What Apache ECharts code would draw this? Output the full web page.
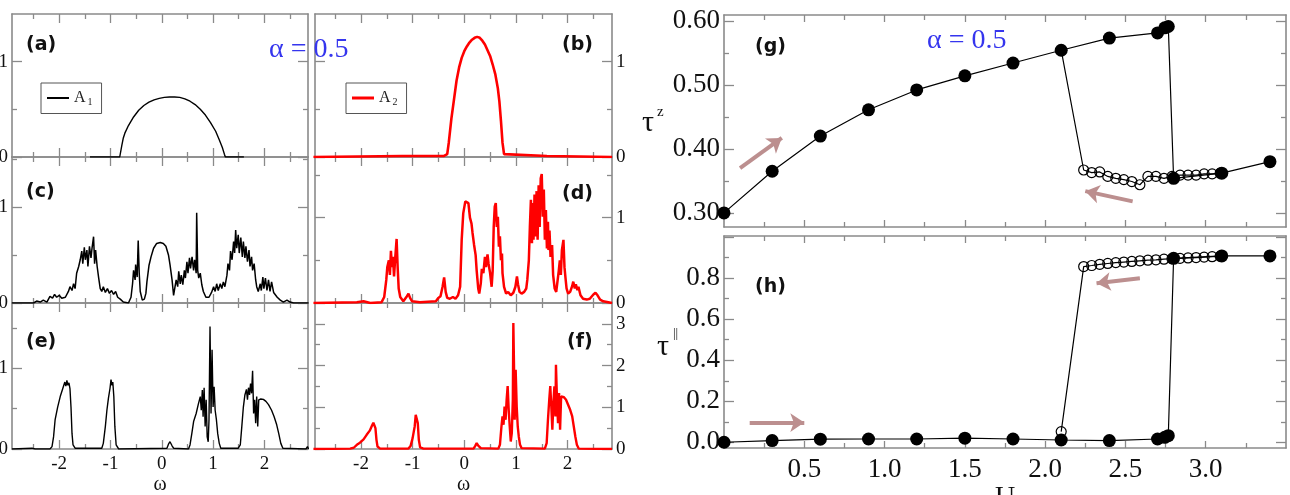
<!DOCTYPE html>
<html>
<head>
<meta charset="utf-8">
<script src="https://cdn.jsdelivr.net/npm/echarts@6/dist/echarts.min.js"></script>
<style>
html, body { margin: 0; padding: 0; background: #fff; }
#chart { width: 1290px; height: 495px; }
</style>
</head>
<body>
<div id="chart"></div>
<script>
// spectral functions, [omega, A(omega)]
var specA1a = [[-1.4,0],[-0.82,0],[-0.8,0.02],[-0.78,0.12],[-0.75,0.2],[-0.72,0.25],[-0.65,0.33],[-0.55,0.42],[-0.45,0.49],[-0.35,0.54],[-0.25,0.575],[-0.15,0.6],[-0.05,0.615],[0.05,0.625],[0.15,0.63],[0.25,0.63],[0.35,0.625],[0.45,0.61],[0.55,0.585],[0.65,0.55],[0.75,0.5],[0.85,0.44],[0.95,0.36],[1.05,0.27],[1.12,0.18],[1.18,0.1],[1.22,0.03],[1.24,0],[1.6,0]];
var specA2b = [[-2.92,0],[-1.2,0.01],[-0.4,0.01],[-0.33,0.03],[-0.3,0.15],[-0.25,0.4],[-0.2,0.6],[-0.15,0.8],[-0.1,0.94],[-0.05,1.04],[0,1.11],[0.05,1.16],[0.1,1.2],[0.15,1.23],[0.2,1.25],[0.25,1.26],[0.3,1.25],[0.35,1.22],[0.4,1.18],[0.45,1.12],[0.5,1.06],[0.55,0.97],[0.6,0.87],[0.65,0.72],[0.68,0.58],[0.71,0.38],[0.74,0.15],[0.77,0.03],[0.8,0.01],[1.6,0.01],[2.86,0]];
var specA1c = [[-2.92,0],[-2.5,0],[-2.44,0.02],[-2.37,0.01],[-2.31,0.03],[-2.24,0.01],[-2.18,0.07],[-2.13,0.05],[-2.09,0.09],[-2.05,0.06],[-2.0,0.08],[-1.95,0.05],[-1.88,0.06],[-1.82,0.12],[-1.79,0.17],[-1.75,0.13],[-1.72,0.2],[-1.69,0.15],[-1.66,0.31],[-1.62,0.38],[-1.59,0.45],[-1.56,0.54],[-1.54,0.41],[-1.51,0.58],[-1.49,0.45],[-1.46,0.55],[-1.44,0.38],[-1.41,0.59],[-1.38,0.47],[-1.36,0.57],[-1.33,0.69],[-1.31,0.41],[-1.29,0.55],[-1.26,0.38],[-1.23,0.26],[-1.2,0.15],[-1.17,0.12],[-1.14,0.17],[-1.1,0.11],[-1.06,0.15],[-1.02,0.1],[-0.98,0.13],[-0.94,0.09],[-0.9,0.12],[-0.86,0.06],[-0.81,0.04],[-0.75,0.01],[-0.65,0],[-0.6,0.06],[-0.57,0.2],[-0.55,0.34],[-0.52,0.24],[-0.51,0.4],[-0.48,0.27],[-0.46,0.65],[-0.44,0.31],[-0.42,0.12],[-0.38,0.03],[-0.34,0.04],[-0.31,0.1],[-0.29,0.22],[-0.25,0.39],[-0.21,0.48],[-0.16,0.57],[-0.1,0.62],[-0.03,0.63],[0.03,0.62],[0.08,0.59],[0.13,0.5],[0.16,0.4],[0.2,0.24],[0.23,0.08],[0.25,0.06],[0.28,0.24],[0.31,0.17],[0.33,0.33],[0.36,0.2],[0.38,0.29],[0.41,0.19],[0.44,0.34],[0.46,0.26],[0.49,0.43],[0.51,0.31],[0.54,0.47],[0.56,0.36],[0.59,0.48],[0.62,0.34],[0.64,0.45],[0.67,0.31],[0.68,0.94],[0.7,0.34],[0.72,0.26],[0.75,0.31],[0.78,0.19],[0.81,0.12],[0.86,0.06],[0.92,0.06],[0.97,0.11],[1.01,0.17],[1.04,0.12],[1.07,0.2],[1.1,0.13],[1.14,0.2],[1.17,0.15],[1.2,0.22],[1.23,0.17],[1.27,0.29],[1.29,0.41],[1.32,0.34],[1.34,0.54],[1.37,0.45],[1.4,0.64],[1.42,0.52],[1.44,0.76],[1.46,0.57],[1.49,0.71],[1.51,0.52],[1.54,0.68],[1.57,0.48],[1.59,0.64],[1.62,0.47],[1.64,0.59],[1.67,0.43],[1.7,0.55],[1.72,0.38],[1.75,0.48],[1.77,0.34],[1.8,0.41],[1.83,0.24],[1.85,0.17],[1.88,0.12],[1.92,0.2],[1.94,0.13],[1.97,0.27],[1.99,0.15],[2.02,0.26],[2.05,0.13],[2.08,0.24],[2.11,0.12],[2.14,0.22],[2.18,0.11],[2.21,0.13],[2.25,0.06],[2.31,0.03],[2.37,0.01],[2.44,0.03],[2.5,0.01],[2.57,0],[2.86,0]];
var specA2d = [[-2.92,0],[-2.08,0.01],[-1.95,0.02],[-1.82,0],[-1.6,0.01],[-1.55,0.07],[-1.51,0.27],[-1.49,0.42],[-1.46,0.5],[-1.44,0.33],[-1.42,0.61],[-1.4,0.42],[-1.38,0.54],[-1.36,0.31],[-1.34,0.5],[-1.31,0.75],[-1.29,0.42],[-1.27,0.17],[-1.24,0.07],[-1.18,0.02],[-1.11,0.08],[-1.08,0.11],[-1.05,0.06],[-1.01,0.02],[-0.86,0.01],[-0.55,0.02],[-0.5,0.06],[-0.46,0.08],[-0.42,0.19],[-0.39,0.3],[-0.36,0.13],[-0.33,0.06],[-0.28,0.05],[-0.22,0.07],[-0.17,0.05],[-0.12,0.09],[-0.08,0.19],[-0.05,0.74],[-0.02,1.05],[0.02,1.19],[0.05,1.21],[0.08,1.17],[0.11,1.0],[0.14,0.93],[0.16,0.82],[0.19,0.68],[0.22,0.56],[0.24,0.38],[0.27,0.17],[0.29,0.11],[0.32,0.23],[0.34,0.4],[0.37,0.35],[0.4,0.54],[0.42,0.42],[0.45,0.57],[0.47,0.46],[0.5,0.35],[0.53,0.19],[0.55,0.38],[0.57,0.89],[0.59,1.13],[0.61,1.17],[0.63,0.89],[0.65,1.01],[0.67,0.66],[0.69,0.78],[0.71,0.5],[0.73,0.58],[0.74,0.35],[0.77,0.19],[0.81,0.11],[0.85,0.13],[0.9,0.09],[0.95,0.12],[0.99,0.19],[1.02,0.31],[1.04,0.22],[1.07,0.13],[1.11,0.11],[1.16,0.13],[1.2,0.17],[1.22,0.27],[1.25,0.5],[1.27,0.89],[1.29,1.21],[1.31,0.7],[1.32,1.17],[1.34,0.74],[1.36,1.27],[1.38,0.78],[1.4,1.31],[1.42,0.74],[1.44,1.38],[1.46,0.89],[1.48,1.46],[1.5,1.51],[1.52,1.01],[1.54,1.33],[1.56,0.74],[1.58,1.09],[1.6,0.64],[1.62,0.95],[1.63,0.62],[1.65,0.85],[1.67,0.54],[1.7,0.68],[1.72,0.33],[1.75,0.17],[1.78,0.13],[1.8,0.23],[1.83,0.38],[1.85,0.5],[1.87,0.33],[1.89,0.62],[1.92,0.74],[1.94,0.42],[1.96,0.29],[1.98,0.17],[2.01,0.11],[2.05,0.13],[2.09,0.2],[2.11,0.25],[2.14,0.17],[2.16,0.22],[2.19,0.15],[2.21,0.19],[2.25,0.09],[2.3,0.05],[2.37,0.04],[2.43,0.05],[2.5,0.1],[2.54,0.12],[2.58,0.09],[2.63,0.04],[2.69,0.02],[2.86,0]];
var specA1e = [[-2.92,0],[-2.53,0.01],[-2.5,0.03],[-2.47,0],[-2.18,0],[-2.14,0.03],[-2.11,0.15],[-2.08,0.36],[-2.03,0.52],[-1.98,0.65],[-1.93,0.75],[-1.89,0.83],[-1.87,0.78],[-1.85,0.85],[-1.83,0.79],[-1.81,0.82],[-1.79,0.75],[-1.77,0.52],[-1.75,0.19],[-1.73,0.05],[-1.69,0.01],[-1.23,0.01],[-1.2,0.03],[-1.17,0.01],[-1.14,0.07],[-1.1,0.28],[-1.07,0.48],[-1.04,0.63],[-1.01,0.75],[-0.99,0.86],[-0.97,0.79],[-0.955,0.83],[-0.935,0.65],[-0.915,0.28],[-0.89,0.05],[-0.84,0],[0.1,0.01],[0.13,0.06],[0.16,0.09],[0.2,0.04],[0.23,0.01],[0.52,0],[0.55,0.05],[0.585,0.19],[0.62,0.34],[0.67,0.44],[0.71,0.55],[0.75,0.65],[0.77,0.48],[0.79,0.73],[0.805,0.4],[0.825,0.76],[0.845,0.28],[0.865,0.61],[0.885,0.15],[0.905,0.09],[0.92,0.36],[0.94,1.52],[0.96,0.44],[0.98,1.23],[1.0,0.52],[1.02,0.77],[1.04,0.48],[1.065,0.36],[1.09,0.19],[1.12,0.07],[1.15,0.01],[1.49,0.01],[1.53,0.05],[1.56,0.28],[1.59,0.52],[1.62,0.67],[1.65,0.74],[1.67,0.61],[1.69,0.76],[1.71,0.67],[1.73,0.81],[1.75,0.69],[1.77,0.97],[1.79,0.44],[1.81,0.61],[1.83,0.32],[1.85,0.65],[1.87,0.28],[1.89,0.61],[1.93,0.62],[1.98,0.615],[2.03,0.59],[2.08,0.55],[2.14,0.48],[2.19,0.4],[2.24,0.3],[2.28,0.19],[2.32,0.07],[2.36,0.01],[2.81,0],[2.84,0.03],[2.86,0]];
var specA2f = [[-2.92,0],[-2.21,0.01],[-2.14,0.03],[-2.08,0.1],[-2.02,0.15],[-1.95,0.23],[-1.89,0.34],[-1.83,0.44],[-1.79,0.55],[-1.76,0.63],[-1.74,0.6],[-1.72,0.5],[-1.7,0.22],[-1.68,0.06],[-1.63,0.01],[-1.08,0.01],[-1.04,0.07],[-1.0,0.26],[-0.96,0.54],[-0.94,0.82],[-0.92,0.86],[-0.9,0.62],[-0.88,0.22],[-0.855,0.04],[-0.79,0.01],[0.18,0.01],[0.21,0.07],[0.24,0.14],[0.27,0.08],[0.32,0.02],[0.66,0.01],[0.69,0.1],[0.72,0.54],[0.74,0.78],[0.76,0.58],[0.78,1.02],[0.8,0.7],[0.82,1.18],[0.84,1.51],[0.86,0.94],[0.88,0.54],[0.9,0.18],[0.92,0.38],[0.94,1.18],[0.95,3.02],[0.963,1.98],[0.976,0.7],[0.995,1.9],[1.015,1.02],[1.035,0.54],[1.055,0.3],[1.08,0.1],[1.11,0.02],[1.56,0.01],[1.595,0.14],[1.62,0.7],[1.645,1.18],[1.665,1.51],[1.685,1.02],[1.705,0.46],[1.725,1.1],[1.745,1.5],[1.765,0.78],[1.775,2.02],[1.795,1.18],[1.815,0.62],[1.835,1.34],[1.855,0.46],[1.875,1.26],[1.9,1.3],[1.93,1.24],[1.97,1.18],[2.01,1.06],[2.05,0.94],[2.09,0.78],[2.12,0.54],[2.15,0.3],[2.18,0.1],[2.215,0.01],[2.86,0]];

// hysteresis: U increasing (filled) and decreasing (open)
var upU    = [0, 0.3, 0.6, 0.9, 1.2, 1.5, 1.8, 2.1, 2.4, 2.7, 2.745, 2.767, 2.8, 3.1, 3.4];
var upTz   = [0.30, 0.365, 0.42, 0.461, 0.492, 0.514, 0.534, 0.554, 0.573, 0.581, 0.589, 0.591, 0.354, 0.362, 0.380];
var upTpar = [0.0, 0.008, 0.015, 0.016, 0.016, 0.02, 0.016, 0.011, 0.008, 0.016, 0.024, 0.032, 0.897, 0.909, 0.909];
var downU    = [3.09, 3.04, 2.99, 2.94, 2.89, 2.84, 2.79, 2.74, 2.69, 2.64, 2.59, 2.54, 2.49, 2.44, 2.39, 2.34, 2.29, 2.24, 2.1];
var downTz   = [0.362, 0.361, 0.361, 0.359, 0.359, 0.359, 0.357, 0.354, 0.357, 0.357, 0.344, 0.349, 0.352, 0.354, 0.357, 0.364, 0.363, 0.367, 0.554];
var downTpar = [0.907, 0.905, 0.903, 0.901, 0.899, 0.897, 0.895, 0.893, 0.890, 0.888, 0.885, 0.882, 0.879, 0.876, 0.872, 0.868, 0.862, 0.857, 0.052];

// tick positions / labels
var wMajor = [-2, -1, 0, 1, 2];
var wMinor = [-2.5, -1.5, -0.5, 0.5, 1.5, 2.5];
var uMajor = [0.5, 1, 1.5, 2, 2.5, 3];
var uMinor = [0.25, 0.75, 1.25, 1.75, 2.25, 2.75, 3.25];
var tzMajor = [0.3, 0.4, 0.5, 0.6];
var tzMinor = [0.35, 0.45, 0.55];
var tpMajor = [0, 0.2, 0.4, 0.6, 0.8, 1.0];
var tpMinor = [0.1, 0.3, 0.5, 0.7, 0.9];

var FRAME = '#8a8a8a';
var SERIF = '"Liberation Serif", "Times New Roman", serif';
var ROSE = '#bc8f8f';

function pts(xs, ys) {
    return xs.map(function (x, i) { return [x, ys[i]]; });
}

// one axis; major ones carry the frame line, minor ones only short ticks
function makeAxis(grid, pos, range, ticks, len, line, labels, lab) {
    lab = lab || {};
    return {
        type: 'value', gridIndex: grid, position: pos, min: range[0], max: range[1],
        axisLine: {show: line, onZero: false, lineStyle: {color: FRAME, width: 1.6}},
        axisTick: {show: true, inside: true, length: len, customValues: ticks, lineStyle: {color: FRAME, width: 1.3}},
        axisLabel: labels ? {show: true, customValues: labels, color: '#111', fontFamily: SERIF,
            fontSize: lab.size, margin: lab.margin, formatter: lab.fmt} : {show: false},
        splitLine: {show: false},
        name: lab.name, nameLocation: 'middle', nameGap: lab.gap,
        nameTextStyle: {fontFamily: SERIF, fontSize: lab.nameSize, color: '#111'}
    };
}

var panels = [
    {box: {left: 12, top: 14, width: 296, height: 143}, x: [-2.92, 2.85], y: [0, 1.5], yMaj: [0, 1], yMin: [0.5], ySide: 'left'},
    {box: {left: 315, top: 14, width: 297, height: 143}, x: [-2.89, 2.86], y: [0, 1.5], yMaj: [0, 1], yMin: [0.5], ySide: 'right'},
    {box: {left: 12, top: 157, width: 296, height: 146}, x: [-2.92, 2.85], y: [0, 1.52], yMaj: [0, 1], yMin: [0.5, 1.5], ySide: 'left'},
    {box: {left: 315, top: 157, width: 297, height: 146}, x: [-2.89, 2.86], y: [0, 1.71], yMaj: [0, 1], yMin: [0.5, 1.5], ySide: 'right'},
    {box: {left: 12, top: 303, width: 296, height: 146}, x: [-2.92, 2.85], y: [0, 1.81], yMaj: [0, 1], yMin: [0.5, 1.5], ySide: 'left', xLab: true},
    {box: {left: 315, top: 303, width: 297, height: 146}, x: [-2.89, 2.86], y: [0, 3.5], yMaj: [0, 1, 2, 3], yMin: [0.5, 1.5, 2.5], ySide: 'right', xLab: true}
];

var grids = [], xAxes = [], yAxes = [];
panels.forEach(function (p, i) {
    grids.push(Object.assign({containLabel: false, outerBoundsMode: 'none'}, p.box));
    var wl = p.xLab ? {size: 19, margin: 6, name: 'ω', gap: 18, nameSize: 20} : null;
    xAxes.push(makeAxis(i, 'bottom', p.x, wMajor, 9, true, p.xLab ? wMajor : null, wl));
    xAxes.push(makeAxis(i, 'top', p.x, wMajor, 9, true, null));
    xAxes.push(makeAxis(i, 'bottom', p.x, wMinor, 5, false, null));
    xAxes.push(makeAxis(i, 'top', p.x, wMinor, 5, false, null));
    var yl = {size: 19, margin: 4};
    yAxes.push(makeAxis(i, 'left', p.y, p.yMaj, 10, true, p.ySide === 'left' ? p.yMaj : null, yl));
    yAxes.push(makeAxis(i, 'right', p.y, p.yMaj, 10, true, p.ySide === 'right' ? p.yMaj : null, yl));
    yAxes.push(makeAxis(i, 'left', p.y, p.yMin, 5, false, null));
    yAxes.push(makeAxis(i, 'right', p.y, p.yMin, 5, false, null));
});

// (g) and (h)
var uRange = [0, 3.5];
grids.push({left: 724, top: 15, width: 562, height: 212, containLabel: false, outerBoundsMode: 'none'});
grids.push({left: 724, top: 236, width: 562, height: 212, containLabel: false, outerBoundsMode: 'none'});
[6, 7].forEach(function (g) {
    var xl = g === 7 ? {size: 27, margin: 8, fmt: function (v) { return v.toFixed(1); }, name: 'U', gap: 30, nameSize: 28} : null;
    xAxes.push(makeAxis(g, 'bottom', uRange, uMajor, 7, true, g === 7 ? uMajor : null, xl));
    xAxes.push(makeAxis(g, 'top', uRange, uMajor, 7, true, null));
    xAxes.push(makeAxis(g, 'bottom', uRange, uMinor, 5, false, null));
    xAxes.push(makeAxis(g, 'top', uRange, uMinor, 5, false, null));
});
var tzRange = [0.278, 0.609], tpRange = [-0.028, 1.006];
yAxes.push(makeAxis(6, 'left', tzRange, tzMajor, 10, true, tzMajor, {size: 27, margin: 4, fmt: function (v) { return v.toFixed(2); }}));
yAxes.push(makeAxis(6, 'right', tzRange, tzMajor, 10, true, null));
yAxes.push(makeAxis(6, 'left', tzRange, tzMinor, 5, false, null));
yAxes.push(makeAxis(6, 'right', tzRange, tzMinor, 5, false, null));
yAxes.push(makeAxis(7, 'left', tpRange, tpMajor, 10, true, [0, 0.2, 0.4, 0.6, 0.8], {size: 27, margin: 4, fmt: function (v) { return v.toFixed(1); }}));
yAxes.push(makeAxis(7, 'right', tpRange, tpMajor, 10, true, null));
yAxes.push(makeAxis(7, 'left', tpRange, tpMinor, 5, false, null));
yAxes.push(makeAxis(7, 'right', tpRange, tpMinor, 5, false, null));

function specSeries(name, data, g, color, width) {
    return {
        name: name, type: 'line', data: data, xAxisIndex: 4 * g, yAxisIndex: 4 * g,
        symbol: 'none', showSymbol: false, lineStyle: {color: color, width: width},
        itemStyle: {color: color}, z: 3
    };
}

function arrows(list) {
    return {
        silent: true, symbol: ['none', 'arrow'], symbolSize: 14,
        lineStyle: {color: ROSE, width: 4, type: 'solid'}, label: {show: false},
        data: list.map(function (a) { return [{coord: a[0]}, {coord: a[1]}]; })
    };
}

function openSeries(ys, g, marks) {
    return {
        type: 'line', data: pts(downU, ys), xAxisIndex: 4 * g, yAxisIndex: 4 * g,
        symbol: 'circle', symbolSize: 10, lineStyle: {color: '#000', width: 1.2},
        itemStyle: {color: 'rgba(255,255,255,0)', borderColor: '#000', borderWidth: 1.2},
        markLine: arrows(marks), z: 3
    };
}

function filledSeries(ys, g) {
    return {
        type: 'line', data: pts(upU, ys), xAxisIndex: 4 * g, yAxisIndex: 4 * g,
        symbol: 'circle', symbolSize: 13, lineStyle: {color: '#000', width: 1.2},
        itemStyle: {color: '#000'}, z: 4
    };
}

var series = [
    specSeries('A1', specA1a, 0, '#000', 1.4),
    specSeries('A2', specA2b, 1, '#ff0000', 2.6),
    specSeries('A1c', specA1c, 2, '#000', 1.5),
    specSeries('A2d', specA2d, 3, '#ff0000', 2.5),
    specSeries('A1e', specA1e, 4, '#000', 1.4),
    specSeries('A2f', specA2f, 5, '#ff0000', 2.4),
    openSeries(downTz, 6, [[[0.1, 0.37], [0.36, 0.417]], [[2.545, 0.318], [2.25, 0.334]]]),
    filledSeries(upTz, 6),
    openSeries(downTpar, 7, [[[0.16, 0.096], [0.5, 0.096]], [[2.59, 0.80], [2.32, 0.776]]]),
    filledSeries(upTpar, 7)
];

function legendBox(name, left) {
    return {
        data: [name], left: left, top: 83, selectedMode: false, icon: 'rect',
        itemWidth: 22, itemHeight: name === 'A1' ? 2 : 3, itemGap: 0,
        borderColor: '#555', borderWidth: 1, padding: [7, 9, 6, 6], backgroundColor: '#fff',
        formatter: function (n) { return '{n|A}{s|' + n.slice(1) + '}'; },
        textStyle: {
            color: '#222', fontFamily: SERIF, fontSize: 16,
            rich: {n: {fontFamily: SERIF, fontSize: 16}, s: {fontFamily: SERIF, fontSize: 10, padding: [9, 0, 0, 2]}}
        }
    };
}

function label(text, x, y, font, color) {
    return {type: 'text', x: x, y: y, z: 10,
        style: {text: text, font: font, fill: color || '#111', align: 'left', verticalAlign: 'middle'}};
}

var PANEL_FONT = 'bold 19px "DejaVu Sans", sans-serif';
var graphics = [
    label('(a)', 26, 45, PANEL_FONT), label('(b)', 562, 45, PANEL_FONT),
    label('(c)', 26, 192, PANEL_FONT), label('(d)', 562, 194, PANEL_FONT),
    label('(e)', 26, 342, PANEL_FONT), label('(f)', 567, 342, PANEL_FONT),
    label('(g)', 755, 47, PANEL_FONT), label('(h)', 755, 287, PANEL_FONT),
    label('α = 0.5', 269, 50, '28px ' + SERIF, '#3535ee'),
    label('α = 0.5', 927, 41, '28px ' + SERIF, '#3535ee'),
    label('τ', 642, 123, '30px ' + SERIF), label('z', 657, 112, '15px ' + SERIF),
    label('τ', 657, 347, '30px ' + SERIF), label('||', 673, 334, '13px ' + SERIF)
];

var myChart = echarts.init(document.getElementById('chart'));
myChart.setOption({
    animation: false,
    backgroundColor: '#fff',
    textStyle: {fontFamily: SERIF},
    grid: grids,
    xAxis: xAxes,
    yAxis: yAxes,
    legend: [legendBox('A1', 41), legendBox('A2', 346)],
    graphic: graphics,
    series: series
});
</script>
</body>
</html>
